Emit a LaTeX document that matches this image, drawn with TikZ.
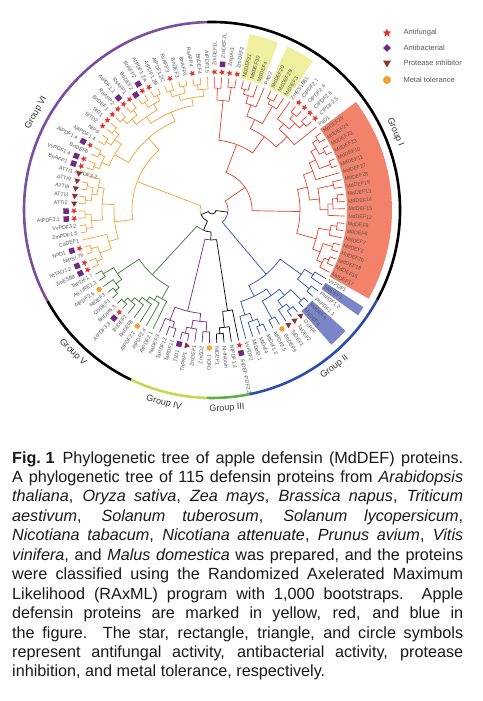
\documentclass[tikz,border=0pt]{standalone}
\usepackage{fontspec}
\setmainfont{Liberation Sans}
\usepackage{tikz}
\usetikzlibrary{shapes.geometric}
\definecolor{redbr}{RGB}{232,64,42}
\definecolor{bluebr}{RGB}{44,78,166}
\definecolor{orangebr}{RGB}{245,160,48}
\definecolor{purplebr}{RGB}{122,40,128}
\definecolor{greenbr}{RGB}{58,122,48}
\definecolor{arcviolet}{RGB}{123,79,160}
\definecolor{arcgreen}{RGB}{90,176,64}
\definecolor{arclime}{RGB}{200,216,80}
\definecolor{boxred}{RGB}{242,131,106}
\definecolor{boxblue}{RGB}{122,134,200}
\definecolor{boxyellow}{RGB}{238,240,160}
\definecolor{starred}{RGB}{232,48,42}
\definecolor{sqpurple}{RGB}{112,42,130}
\definecolor{tribrown}{RGB}{140,52,44}
\definecolor{dotorange}{RGB}{245,160,48}
\definecolor{labgray}{RGB}{85,85,85}

% angle of leaf number #1 (clockwise from the top)
\newcommand{\ang}[1]{(89-3.16*(#1-1))}
% branch: parent (index, radius) -> child (index, radius)
\newcommand{\br}[4]{\draw ({\ang{#1}}:#2) arc[start angle={\ang{#1}}, end angle={\ang{#3}}, radius=#2pt] -- ({\ang{#3}}:#4);}
% shaded sector over leaves #2..#3
\newcommand{\hibox}[3]{\fill[#1] ({\ang{#2}+1.58}:135) arc[start angle={\ang{#2}+1.58}, end angle={\ang{#3}-1.58}, radius=135pt] -- ({\ang{#3}-1.58}:180) arc[start angle={\ang{#3}-1.58}, end angle={\ang{#2}+1.58}, radius=180pt] -- cycle;}

\begin{document}
\begin{tikzpicture}[x=1pt, y=1pt,
  starsym/.style={star, star points=5, star point ratio=2.3, fill=starred, inner sep=0pt, minimum size=6.5pt},
  sqsym/.style={rectangle, fill=sqpurple, inner sep=0pt, minimum size=5.5pt},
  trisym/.style={regular polygon, regular polygon sides=3, fill=tribrown, inner sep=0pt, minimum size=7pt},
  dotsym/.style={circle, fill=dotorange, inner sep=0pt, minimum size=5.5pt},
  leaflab/.style={font=\fontsize{5.3}{6}\selectfont, text=labgray, inner sep=0.3pt},
  grplab/.style={font=\fontsize{9}{10}\selectfont, text=black!80},
  leglab/.style={font=\fontsize{7.5}{8}\selectfont, text=labgray, anchor=west},
  branch/.style={line width=0.7pt}]

\useasboundingbox (-212,-491) rectangle (270,210);

% Highlighted MdDEF proteins
\hibox{boxyellow}{5}{7}
\hibox{boxyellow}{9}{11}
\hibox{boxred}{18}{38}
\hibox{boxblue}{40}{40}
\hibox{boxblue}{43}{44}

% Group I
\begin{scope}[branch, redbr]
\foreach \pa/\ra/\ch/\rb in {1.5/122/1/133, 1.5/122/2/133, 3.5/124/3/133, 3.5/124/4/133,
  2.5/110/1.5/122, 2.5/110/3.5/124,
  5.5/125/5/133, 5.5/125/6/133, 6.25/120/5.5/125, 6.25/120/7/133,
  7.125/112/6.25/120, 7.125/112/8/133,
  9.5/125/9/133, 9.5/125/10/133, 10.25/120/9.5/125, 10.25/120/11/133,
  8.6875/100/7.125/112, 8.6875/100/10.25/120,
  13.5/126/13/133, 13.5/126/14/133, 15.5/126/15/133, 15.5/126/16/133,
  14.5/120/13.5/126, 14.5/120/15.5/126, 13.25/112/12/133, 13.25/112/14.5/120,
  15.125/105/13.25/112, 15.125/105/17/133,
  11.90625/90/8.6875/100, 11.90625/90/15.125/105,
  7.203125/70/2.5/110, 7.203125/70/11.90625/90,
  18.5/127/18/133, 18.5/127/19/133, 20.5/127/20/133, 20.5/127/21/133,
  19.5/121/18.5/127, 19.5/121/20.5/127, 22.5/127/22/133, 22.5/127/23/133,
  21/115/19.5/121, 21/115/22.5/127, 22.5/108/21/115, 22.5/108/24/133,
  25.5/124/25/133, 25.5/124/26/133, 27.5/126/27/133, 27.5/126/28/133,
  28.25/121/27.5/126, 28.25/121/29/133, 29.125/116/28.25/121, 29.125/116/30/133,
  27.3125/108/25.5/124, 27.3125/108/29.125/116,
  31.5/126/31/133, 31.5/126/32/133, 32.25/120/31.5/126, 32.25/120/33/133,
  34.5/126/34/133, 34.5/126/35/133, 36.5/127/36/133, 36.5/127/37/133,
  37.25/122/36.5/127, 37.25/122/38/133, 35.875/116/34.5/126, 35.875/116/37.25/122,
  34.0625/108/32.25/120, 34.0625/108/35.875/116,
  24.90625/98/22.5/108, 24.90625/98/27.3125/108,
  29.484375/88/24.90625/98, 29.484375/88/34.0625/108,
  18.34375/40/7.203125/70, 18.34375/40/29.484375/88,
  31.6484375/16/18.34375/40}
  {\br{\pa}{\ra}{\ch}{\rb}}
\end{scope}

% Group II
\begin{scope}[branch, bluebr]
\foreach \pa/\ra/\ch/\rb in {39.5/120/39/133, 39.5/120/40/133, 41.5/125/41/133, 41.5/125/42/133,
  40.5/110/39.5/120, 40.5/110/41.5/125,
  43.5/127/43/133, 43.5/127/44/133, 45.5/126/45/133, 45.5/126/46/133,
  46.25/120/45.5/126, 46.25/120/47/133, 44.875/112/43.5/127, 44.875/112/46.25/120,
  48.5/124/48/133, 48.5/124/49/133, 46.6875/104/44.875/112, 46.6875/104/48.5/124,
  50.5/125/50/133, 50.5/125/51/133, 51.25/118/50.5/125, 51.25/118/52/133,
  52.125/110/51.25/118, 52.125/110/53/133,
  49.40625/96/46.6875/104, 49.40625/96/52.125/110,
  44.953125/84/40.5/110, 44.953125/84/49.40625/96,
  31.6484375/16/44.953125/84}
  {\br{\pa}{\ra}{\ch}{\rb}}
\end{scope}

% Group III
\begin{scope}[branch, black]
\foreach \pa/\ra/\ch/\rb in {56.5/124/56/133, 56.5/124/57/133, 55.75/118/55/133, 55.75/118/56.5/124,
  54.875/102/54/133, 54.875/102/55.75/118,
  58.40625/30/54.875/102, 64.79296875/22/58.40625/30,
  78.748046875/12/64.79296875/22,
  55.1982421875/4/31.6484375/16, 55.1982421875/4/78.748046875/12}
  {\br{\pa}{\ra}{\ch}{\rb}}
\end{scope}

% Group IV
\begin{scope}[branch, purplebr]
\foreach \pa/\ra/\ch/\rb in {58.5/122/58/133, 58.5/122/59/133, 61.5/126/61/133, 61.5/126/62/133,
  60.75/120/60/133, 60.75/120/61.5/126, 59.625/112/58.5/122, 59.625/112/60.75/120,
  63.5/124/63/133, 63.5/124/64/133, 64.25/118/63.5/124, 64.25/118/65/133,
  61.9375/104/59.625/112, 61.9375/104/64.25/118,
  58.40625/30/61.9375/104}
  {\br{\pa}{\ra}{\ch}{\rb}}
\end{scope}

% Group V
\begin{scope}[branch, greenbr]
\foreach \pa/\ra/\ch/\rb in {71.5/127/71/133, 71.5/127/72/133, 70.75/122/70/133, 70.75/122/71.5/127,
  69.875/117/69/133, 69.875/117/70.75/122, 68.9375/112/68/133, 68.9375/112/69.875/117,
  67.96875/107/67/133, 67.96875/107/68.9375/112, 66.984375/102/66/133, 66.984375/102/67.96875/107,
  73.5/126/73/133, 73.5/126/74/133, 74.25/121/73.5/126, 74.25/121/75/133,
  76.5/126/76/133, 76.5/126/77/133, 75.375/114/74.25/121, 75.375/114/76.5/126,
  71.1796875/88/66.984375/102, 71.1796875/88/75.375/114,
  64.79296875/22/71.1796875/88}
  {\br{\pa}{\ra}{\ch}{\rb}}
\end{scope}

% Group VI
\begin{scope}[branch, orangebr]
\foreach \pa/\ra/\ch/\rb in {78.5/126/78/133, 78.5/126/79/133, 80.5/127/80/133, 80.5/127/81/133,
  79.5/120/78.5/126, 79.5/120/80.5/127, 80.75/108/79.5/120, 80.75/108/82/133,
  83.5/127/83/133, 83.5/127/84/133, 85.5/127/85/133, 85.5/127/86/133,
  84.5/121/83.5/127, 84.5/121/85.5/127,
  87.5/127/87/133, 87.5/127/88/133, 89.5/127/89/133, 89.5/127/90/133,
  88.5/121/87.5/127, 88.5/121/89.5/127, 89.75/116/88.5/121, 89.75/116/91/133,
  87.125/110/84.5/121, 87.125/110/89.75/116, 83.9375/98/80.75/108, 83.9375/98/87.125/110,
  92.5/126/92/133, 92.5/126/93/133, 94.5/126/94/133, 94.5/126/95/133,
  93.5/120/92.5/126, 93.5/120/94.5/126, 96.5/126/96/133, 96.5/126/97/133,
  98.5/126/98/133, 98.5/126/99/133, 97.5/120/96.5/126, 97.5/120/98.5/126,
  95.5/112/93.5/120, 95.5/112/97.5/120,
  100.5/127/100/133, 100.5/127/101/133, 102.5/127/102/133, 102.5/127/103/133,
  101.5/121/100.5/127, 101.5/121/102.5/127, 104.5/127/104/133, 104.5/127/105/133,
  106.5/127/106/133, 106.5/127/107/133, 105.5/121/104.5/127, 105.5/121/106.5/127,
  103.5/114/101.5/121, 103.5/114/105.5/121,
  108.5/126/108/133, 108.5/126/109/133, 110.5/127/110/133, 110.5/127/111/133,
  109.5/120/108.5/126, 109.5/120/110.5/127, 112.5/126/112/133, 112.5/126/113/133,
  113.25/121/112.5/126, 113.25/121/114/133, 111.375/114/109.5/120, 111.375/114/113.25/121,
  107.4375/106/103.5/114, 107.4375/106/111.375/114,
  101.46875/96/95.5/112, 101.46875/96/107.4375/106,
  92.703125/80/83.9375/98, 92.703125/80/101.46875/96,
  78.748046875/12/92.703125/80}
  {\br{\pa}{\ra}{\ch}{\rb}}
\end{scope}

% Leaf labels (number of symbols in front)
\foreach \i/\txt/\n in {1/ZmDEF1L/1, 2/ZmDEF2L/2, 3/ZmpAc1/1, 4/ZmDEF2/1, 5/MdDEF21/0,
  6/MdDEF30/0, 7/MdDEF4/0, 8/PaD2/0, 9/MdDEF20/0, 10/MdDEF29/0, 11/MdDEF3/0,
  12/ZmES1B6L/0, 13/CtPDF2.1/1, 14/CtPDF2.4/1, 15/CtPDF2.6/1, 16/CtPDF2.5/1, 17/PaD1/0,
  18/MdDEF25/0, 19/MdDEF24/0, 20/MdDEF22/0, 21/MdDEF23/0, 22/MdDEF10/0, 23/MdDEF11/0,
  24/MdDEF27/0, 25/MdDEF28/0, 26/MdDEF19/0, 27/MdDEF13/0, 28/MdDEF14/0, 29/MdDEF15/0,
  30/MdDEF12/0, 31/MdDEF9/0, 32/MdDEF8/0, 33/MdDEF7/0, 34/MdDEF2/0, 35/MdDEF26/0,
  36/MdDEF18/0, 37/MdDEF16/0, 38/MdDEF17/0,
  39/VvPDF1/0, 40/MdDEF1/0, 41/PhPDF1.2/0, 42/PhPDF1.1/0, 43/MdDEF5/0, 44/MdDEF6/0,
  45/OsRPI/1, 46/TaDEF2/1, 47/TaDEF1/1, 48/BnDEF9/1, 49/AtPDF2.5/0, 50/MtDef1.3/0,
  51/MtDef4/0, 52/MtDef2.1/0, 53/VvPDF2/0,
  54/StDEF-PDF2.2/2, 55/NtPDF1.2/0, 56/Nt-thionin/0, 57/NtDEF1/0,
  58/OsDL1/1, 59/ZmSD2/0, 60/ZmDEF1/0, 61/TaPRP1/1, 62/TsD1/1, 63/TaPDF11/0,
  64/TaPDF12/0, 65/NaDEF3/0,
  66/AtPDF2.1/0, 67/AtPDF2.4/0, 68/AtPDF2.2/1, 69/BnDEF8/0, 70/BnDEF7/0, 71/AtPDF3.3/2,
  72/BnDef6.3/0, 73/OsDEF1/0, 74/NtDEF3/0, 75/AtPDF2.6/1, 76/AtLURE1.3/0, 77/TaPDF1.7/0,
  78/ZmES88/2, 79/NtTAO1.2/2, 80/NtPSI.76/0, 81/NaD1/2, 82/CaDEF1/0, 83/ZmPDF1.5/0,
  84/VvPDF3.2/0, 85/AtPDF3.1/2, 87/ATTI2/1, 88/ATTI3/1, 89/ATTI8/1, 90/ATTI9/1,
  91/ATTI1/1, 92/BnAFP1/2, 93/VvPDF1.4/2, 94/BnDEF6/0, 95/AtPDF1.4/2, 96/NaPDF1.4/0,
  97/NtPsi/0, 98/StTD2/1, 99/StD1/1, 100/BnDEF1/1, 101/RaAFP2/1, 102/AtPDF1.1/2,
  103/RsAFP1/1, 104/BoDEF2/1, 105/BnAFP2/2, 106/AtPDF1.2A/1, 107/AtPDF1.2B/0,
  108/AtPDF1.2C/0, 109/RsAFP3/1, 110/BnDEF3/0, 111/BnAFP3/0, 112/RaAFP4/1,
  113/BnDEF4/0, 114/AtPDF1.5/0} {
  \pgfmathsetmacro\a{\ang{\i}}
  \pgfmathsetmacro\rl{136+8*\n}
  \pgfmathsetmacro\cosa{cos(\a)}
  \ifdim\cosa pt<0pt
    \node[leaflab, anchor=east, rotate=\a+180] (lab\i) at (\a:\rl) {\txt};
  \else
    \node[leaflab, anchor=west, rotate=\a] (lab\i) at (\a:\rl) {\txt};
  \fi
}
\node[leaflab, rotate=-14] (lab86) at (-126,35.5) {AtPDF3.2};

% Activity symbols
\foreach \i in {1,2,3,4,13,14,15,16,54,71,78,79,81,85,86,92,93,95,98,99,100,101,102,103,105,106,109,112}
  \node[starsym, rotate={\ang{\i}}] at ({\ang{\i}}:138) {};
\foreach \i/\r in {2/146, 54/146, 62/138, 71/146, 78/146, 79/146, 81/146, 85/146, 86/146,
  92/146, 93/146, 95/146, 102/146, 104/138, 105/146}
  \node[sqsym, rotate={\ang{\i}}] at ({\ang{\i}}:\r) {};
\foreach \i in {45,46,47,61,87,88,89,90,91}
  \node[trisym, rotate={\ang{\i}}] at ({\ang{\i}}:138) {};
\foreach \i in {48,58,68,75}
  \node[dotsym] at ({\ang{\i}}:138) {};

% Group arcs
\begin{scope}[line width=2.6pt]
\draw[arcviolet] (91.6:188) arc[start angle=91.6, end angle=209, radius=188pt];
\draw[black] (209:188) arc[start angle=209, end angle=244.5, radius=188pt];
\draw[arclime] (244.5:188) arc[start angle=244.5, end angle=268.5, radius=188pt];
\draw[arcgreen] (268.5:188) arc[start angle=268.5, end angle=281.5, radius=188pt];
\draw[bluebr] (281.5:188) arc[start angle=281.5, end angle=331.5, radius=188pt];
\draw[black] (-28.5:188) arc[start angle=-28.5, end angle=91.6, radius=188pt];
\end{scope}

% Group names
\node[grplab, rotate=-67] (g1) at (23:199) {Group I};
\node[grplab, rotate=38] (g2) at (-52:199) {Group II};
\node[grplab, rotate=4] (g3) at (-85.7:199) {Group III};
\node[grplab, rotate=-14] (g4) at (-104:199) {Group IV};
\node[grplab, rotate=-44] (g5) at (-134.4:199) {Group V};
\node[grplab, rotate=61] (g6) at (151:201) {Group VI};

% Legend
\node[starsym, minimum size=9pt] (k1) at (175,177) {};
\node[leglab] at (188,177) {Antifungal};
\node[diamond, fill=sqpurple, inner sep=0pt, minimum size=8pt] (k2) at (175,162) {};
\node[leglab] at (188,162) {Antibacterial};
\node[trisym, minimum size=9pt, rotate=180] (k3) at (175,147) {};
\node[leglab] at (188,147) {Protease inhibitor};
\node[dotsym, minimum size=8pt] (k4) at (175,130) {};
\node[leglab] at (188,130) {Metal tolerance};

% Caption
\node[anchor=base west, inner sep=0pt, text=black!90] (caption) at (-200,-253) {\parbox[t]{451pt}{\fontsize{16.2}{19.45}\selectfont
\textbf{Fig.\kern0.28em1}\hspace{0.5em}Phylogenetic tree of apple defensin (MdDEF) proteins.\linebreak
A phylogenetic tree of 115 defensin proteins from \textit{Arabidopsis}\linebreak
\textit{thaliana}, \textit{Oryza sativa}, \textit{Zea mays}, \textit{Brassica napus}, \textit{Triticum}\linebreak
\textit{aestivum}, \textit{Solanum tuberosum}, \textit{Solanum lycopersicum},\linebreak
\textit{Nicotiana tabacum}, \textit{Nicotiana attenuate}, \textit{Prunus avium}, \textit{Vitis}\linebreak
\textit{vinifera}, and \textit{Malus domestica} was prepared, and the proteins\linebreak
were classified using the Randomized Axelerated Maximum\linebreak
Likelihood (RAxML) program with 1,000 bootstraps.\ \ Apple\linebreak
defensin proteins are marked in yellow, red, and blue in\linebreak
the figure.\ \ The star, rectangle, triangle, and circle symbols\linebreak
represent antifungal activity, antibacterial activity, protease\linebreak
inhibition, and metal tolerance, respectively.}};

\end{tikzpicture}
\end{document}
